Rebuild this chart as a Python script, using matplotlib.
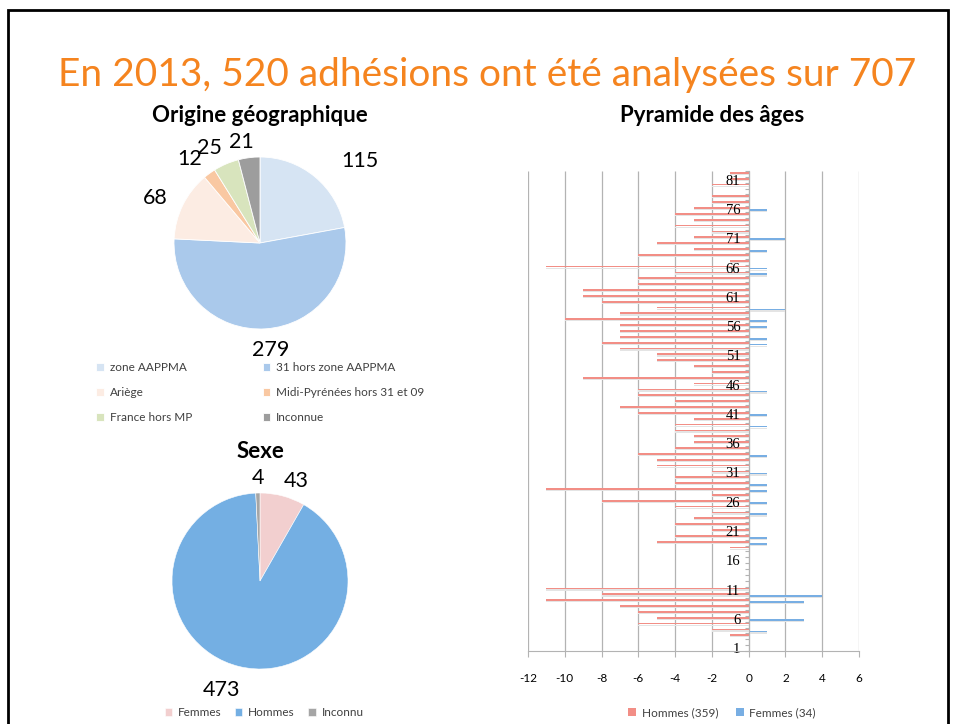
import numpy as np
import matplotlib.pyplot as plt
from matplotlib.patches import Rectangle

plt.rcParams['font.family'] = ['Lato', 'DejaVu Sans']

W, H = 956, 724

# --- data ---
origin_labels = ['zone AAPPMA', '31 hors zone AAPPMA', 'Ariège',
                 'Midi-Pyrénées hors 31 et 09', 'France hors MP', 'Inconnue']
origin_values = [115, 279, 68, 12, 25, 21]
origin_colors = ['#d6e4f3', '#aac9eb', '#fcece3', '#f9c8a2', '#d8e4bd', '#9d9d9d']

sex_labels = ['Femmes', 'Hommes', 'Inconnu']
sex_values = [43, 473, 4]
sex_colors = ['#f2cfcf', '#74afe3', '#a5a5a5']

ages = np.arange(1, 83)
hommes = [0, 0, 1, 2, 6, 5, 6, 7, 11, 8,
          11, 0, 0, 0, 0, 0, 0, 1, 5, 4,
          2, 4, 3, 2, 4, 8, 2, 11, 4, 4,
          2, 5, 5, 6, 4, 3, 3, 4, 4, 3,
          6, 7, 4, 6, 6, 3, 9, 2, 3, 5,
          5, 7, 8, 7, 7, 7, 10, 7, 5, 8,
          9, 9, 6, 6, 4, 11, 1, 6, 3, 5,
          3, 2, 4, 3, 4, 3, 2, 2, 0, 2,
          1, 1]
femmes = [0, 0, 0, 1, 0, 3, 0, 0, 3, 4,
          0, 0, 0, 0, 0, 0, 0, 0, 1, 1,
          0, 0, 0, 1, 0, 1, 0, 1, 1, 0,
          1, 0, 0, 1, 0, 0, 0, 0, 1, 0,
          1, 0, 0, 0, 1, 0, 0, 0, 0, 0,
          0, 0, 1, 1, 0, 1, 1, 0, 2, 0,
          0, 0, 0, 0, 1, 1, 0, 0, 1, 0,
          2, 0, 0, 0, 0, 1, 0, 0, 0, 0,
          0, 0]
xticks = np.arange(-12, 7, 2)


def box(x, y, w, h):
    # pixel box (top-left origin) -> figure fraction
    return [x / W, 1 - (y + h) / H, w / W, h / H]


fig = plt.figure(figsize=(W / 100, H / 100), dpi=100)
fig.patch.set_facecolor('white')

# slide border
fig.add_artist(Rectangle((8 / W, -0.1), 940 / W, 1.1 - 10 / H, transform=fig.transFigure,
                         fill=False, edgecolor='black', linewidth=2))

fig.text(487 / W, 1 - 75 / H, 'En 2013, 520 adhésions ont été analysées sur 707',
         ha='center', va='center', fontsize=28, color='#f5841f')

legend_kw = dict(frameon=False, fontsize=8.5, handlelength=0.65, handleheight=0.65,
                 handletextpad=0.5, borderpad=0, borderaxespad=0, labelcolor='#404040')

# --- pie 1 : origine ---
ax1 = fig.add_axes(box(174, 157, 172, 172))
w1, _ = ax1.pie(origin_values, colors=origin_colors, startangle=90, counterclock=False,
                wedgeprops=dict(edgecolor='white', linewidth=0.6))
ax1.set_xlim(-1, 1)
ax1.set_ylim(-1, 1)
dists = [1.5, 1.25, 1.33, 1.28, 1.25, 1.19]
nudge = [-11, 2, 3, 4, 5, 3]
for w, v, d, n in zip(w1, origin_values, dists, nudge):
    a = np.deg2rad((w.theta1 + w.theta2) / 2 + n)
    ax1.text(d * np.cos(a), d * np.sin(a), str(v), ha='center', va='center',
             fontsize=15.5, clip_on=False)
fig.text(260 / W, 1 - 115 / H, 'Origine géographique', ha='center', va='center',
         fontsize=16, fontweight='bold')

order = [0, 2, 4, 1, 3, 5]
fig.legend([w1[i] for i in order], [origin_labels[i] for i in order],
           loc='upper left', bbox_to_anchor=(96 / W, 1 - 362 / H), ncol=2,
           columnspacing=6.0, labelspacing=1.2, **legend_kw)

# --- pie 2 : sexe ---
ax2 = fig.add_axes(box(172, 493, 176, 176))
w2, _ = ax2.pie(sex_values, colors=sex_colors, startangle=90, counterclock=False,
                wedgeprops=dict(edgecolor='white', linewidth=0.4))
ax2.set_xlim(-1, 1)
ax2.set_ylim(-1, 1)
dists2 = [1.21, 1.31, 1.17]
nudge2 = [-5, -6, 0]
for w, v, d, n in zip(w2, sex_values, dists2, nudge2):
    a = np.deg2rad((w.theta1 + w.theta2) / 2 + n)
    ax2.text(d * np.cos(a), d * np.sin(a), str(v), ha='center', va='center',
             fontsize=15.5, clip_on=False)
fig.text(260 / W, 1 - 451 / H, 'Sexe', ha='center', va='center',
         fontsize=16, fontweight='bold')
fig.legend(w2, sex_labels, loc='center', bbox_to_anchor=(264 / W, 1 - 713 / H),
           ncol=3, columnspacing=1.1, **legend_kw)

# --- pyramide ---
ax3 = fig.add_axes(box(528, 171, 331, 480))
hom = -np.array(hommes)
fem = np.array(femmes)
ax3.vlines(xticks, 0.5, 82.5, color='#b3b3b3', linewidth=0.9, zorder=0.5)
ax3.barh(ages + 0.18 - 0.27, hom, height=0.2, color='#e4e4e4', zorder=1)
ax3.barh(ages - 0.16 - 0.27, fem, height=0.2, color='#e4e4e4', zorder=1)
bh = ax3.barh(ages + 0.18, hom, height=0.3, color='#f28e86', zorder=1.5)
bf = ax3.barh(ages - 0.16, fem, height=0.3, color='#78aee3', zorder=1.5)

ax3.set_xlim(-12, 6)
ax3.set_ylim(0.5, 82.5)
ax3.set_xticks(xticks)
for s in ['top', 'right']:
    ax3.spines[s].set_visible(False)
ax3.spines['left'].set_position(('data', 0))
ax3.spines['left'].set_color('#b3b3b3')
ax3.spines['bottom'].set_color('#b3b3b3')
ax3.set_yticks(np.arange(0.5, 83, 1))
ax3.set_yticklabels([])
ax3.set_yticks(ages[::5], [str(a) for a in ages[::5]], minor=True)
ax3.tick_params(axis='y', which='major', length=3, color='#b3b3b3', width=0.8)
ax3.tick_params(axis='y', which='minor', length=0, pad=6, labelsize=10.5)
for t in ax3.get_yticklabels(minor=True):
    t.set_fontfamily(['Liberation Serif', 'DejaVu Serif'])
ax3.tick_params(axis='x', length=4, color='#b3b3b3', pad=12, labelsize=8.5)
ax3.set_xticklabels([str(v) for v in xticks])
fig.text(712 / W, 1 - 115 / H, 'Pyramide des âges', ha='center', va='center',
         fontsize=16, fontweight='bold')
fig.legend([bh, bf], [f'Hommes ({sum(hommes)})', f'Femmes ({sum(femmes)})'],
           loc='center', bbox_to_anchor=(722 / W, 1 - 713 / H), ncol=2,
           columnspacing=1.5, **legend_kw)

fig.savefig('out.png', dpi=100)
